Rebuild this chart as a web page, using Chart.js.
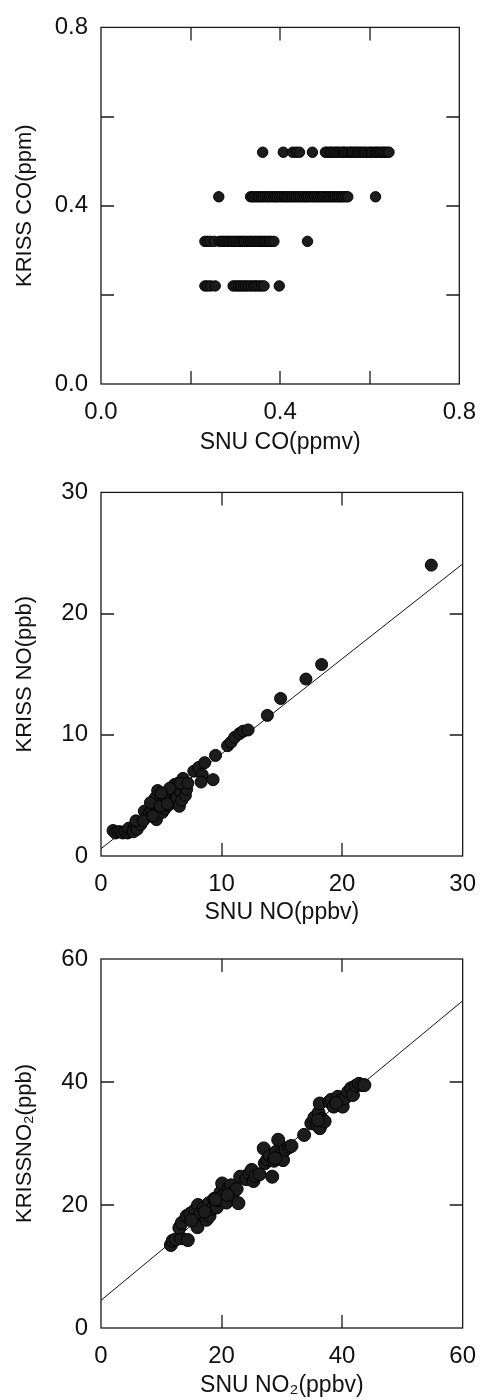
<!DOCTYPE html>
<html>
<head>
<meta charset="utf-8">
<script src="https://cdn.jsdelivr.net/npm/chart.js@4/dist/chart.umd.min.js"></script>
<style>
  body { margin: 0; background: #fff; }
  canvas { display: block; }
</style>
</head>
<body>
<canvas id="coChart" width="490" height="465"></canvas>
<canvas id="noChart" width="490" height="465"></canvas>
<canvas id="no2Chart" width="490" height="470"></canvas>
<script>
// ── DATA ────────────────────────────────────────────────────────────────────
// CO panel: KRISS values are quantised at four levels
const coLevels = [0.52, 0.42, 0.32, 0.22];
const coSnu052 = [0.361, 0.407, 0.428, 0.436, 0.443, 0.472, 0.501, 0.505, 0.511, 0.514,
  0.519, 0.524, 0.528, 0.533, 0.539, 0.542, 0.547, 0.553, 0.558, 0.561, 0.567, 0.572,
  0.576, 0.581, 0.586, 0.590, 0.596, 0.601, 0.605, 0.611, 0.615, 0.619, 0.624, 0.629,
  0.633, 0.638, 0.643];
const coSnu042 = [0.263, 0.334, 0.339, 0.343, 0.349, 0.353, 0.358, 0.362, 0.367, 0.372,
  0.376, 0.381, 0.386, 0.390, 0.394, 0.399, 0.404, 0.409, 0.413, 0.417, 0.422, 0.427,
  0.432, 0.436, 0.441, 0.445, 0.450, 0.455, 0.459, 0.463, 0.468, 0.473, 0.477, 0.482,
  0.486, 0.491, 0.495, 0.500, 0.505, 0.509, 0.514, 0.519, 0.523, 0.528, 0.532, 0.537,
  0.541, 0.546, 0.551, 0.613];
const coSnu032 = [0.232, 0.238, 0.244, 0.253, 0.265, 0.270, 0.274, 0.279, 0.284, 0.288,
  0.293, 0.297, 0.302, 0.307, 0.311, 0.316, 0.320, 0.325, 0.330, 0.334, 0.339, 0.343,
  0.348, 0.352, 0.357, 0.362, 0.366, 0.371, 0.376, 0.380, 0.386, 0.461];
const coSnu022 = [0.232, 0.238, 0.245, 0.255, 0.295, 0.301, 0.307, 0.312, 0.318, 0.323,
  0.329, 0.335, 0.341, 0.346, 0.352, 0.358, 0.364, 0.398];
const coTickLabels = ["0.0", "0.4", "0.8"];

// NO panel
const noSnu = [1.0, 1.2, 1.4, 1.6, 1.8, 2.0, 2.2, 2.4, 2.3, 2.6, 2.8, 2.7, 3.0, 3.1, 3.3, 2.9,
  3.6, 3.8, 4.0, 3.5, 4.2, 4.4, 4.6, 4.5, 4.7, 4.8, 5.0, 5.1, 5.2, 5.3, 5.4, 5.5, 5.6, 5.8,
  5.9, 6.0, 6.1, 6.2, 6.3, 6.4, 6.5, 6.6, 6.7, 6.8, 6.9, 7.0, 7.1, 6.4, 5.7,
  4.1, 4.9, 5.5, 6.6, 7.2, 4.3, 5.0,
  7.7, 8.1, 8.4, 8.6, 8.3, 9.3, 9.5, 10.5, 10.8, 11.1, 11.5, 11.8, 12.2, 13.8, 14.9, 17.0,
  18.3, 27.4];
const noKriss = [2.1, 1.9, 2.0, 2.0, 1.9, 2.0, 1.9, 2.0, 2.3, 2.1, 2.4, 2.0, 2.2, 2.8, 2.6, 2.9,
  3.7, 3.2, 3.5, 2.9, 3.8, 4.3, 3.0, 4.8, 5.4, 4.0, 4.4, 3.6, 4.9, 3.9, 4.6, 5.1, 4.2, 4.7,
  5.3, 4.4, 5.9, 5.1, 4.8, 5.6, 4.1, 5.3, 4.6, 6.4, 5.8, 5.0, 5.5, 6.0, 5.6,
  4.4, 4.1, 4.3, 6.0, 6.0, 3.3, 5.2,
  7.0, 7.3, 6.7, 7.7, 6.1, 6.3, 8.3, 9.1, 9.4, 9.8, 10.1, 10.3, 10.4, 11.6, 13.0, 14.6,
  15.8, 24.0];
const noFitSnu = [0, 30];
const noFitKriss = [0.6, 24.1];
const noTickLabels = ["0", "10", "20", "30"];

// NO2 panel
const no2Snu = [11.6, 11.9, 12.4, 13.3, 13.0, 13.4, 14.4, 14.2, 14.8, 15.3,
  15.6, 16.0, 16.1, 16.5, 17.0, 17.5, 17.9, 18.0, 18.4, 18.8,
  19.2, 19.6, 19.8, 20.1, 20.4, 20.8, 21.2, 21.6, 22.0, 22.5,
  22.8, 23.1, 24.1, 24.6, 25.0, 25.3, 25.6, 27.0, 27.2, 27.6,
  28.0, 28.4, 28.7, 29.0, 29.4, 29.8, 30.2, 30.6, 31.2, 31.6,
  33.7, 34.9, 35.4, 35.8, 36.1, 36.3, 36.3, 36.6, 37.1, 37.9,
  38.2, 38.6, 39.3, 39.7, 40.1, 40.5, 41.0, 41.5, 41.8, 42.3,
  42.8, 43.3, 43.7, 15.0, 17.2, 19.0, 21.0, 26.3, 28.9, 36.0, 39.0];
const no2Kriss = [13.5, 14.2, 14.4, 14.6, 16.3, 17.1, 14.3, 18.2, 18.6, 17.8,
  19.2, 16.4, 20.0, 18.8, 19.5, 17.6, 20.3, 18.2, 19.4, 21.0,
  19.6, 20.8, 22.0, 23.5, 21.6, 20.4, 22.8, 23.2, 22.1, 22.6,
  20.3, 24.6, 24.2, 25.1, 25.7, 23.9, 24.7, 29.2, 26.8, 27.4,
  28.0, 24.6, 27.2, 28.6, 30.6, 28.2, 27.3, 29.0, 29.4, 29.6,
  31.4, 33.3, 34.2, 33.0, 35.0, 32.5, 36.5, 34.0, 33.6, 36.8,
  37.1, 36.0, 37.6, 37.0, 36.0, 37.4, 38.4, 39.0, 37.9, 39.4,
  39.7, 39.5, 39.5, 17.5, 18.9, 20.9, 21.6, 25.0, 27.6, 33.8, 36.6];
const no2FitSnu = [0, 60];
const no2FitKriss = [4.5, 53.2];
const no2TickLabels = ["0", "20", "40", "60"];

// ── HELPERS ─────────────────────────────────────────────────────────────────
const zip = (xs, ys) => xs.map((x, i) => ({ x, y: ys[i] }));
const FONT = "'Liberation Sans', Arial, Helvetica, sans-serif";
const TICK = 13;

Chart.defaults.font.family = FONT;
Chart.defaults.color = "#111";

// frame box + inward ticks on all four sides
const frameTicks = {
  id: "frameTicks",
  afterDatasetsDraw(chart) {
    const { ctx, chartArea: a, scales: { x, y } } = chart;
    ctx.save();
    ctx.strokeStyle = "#1a1a1a";
    ctx.lineWidth = 1.3;
    ctx.strokeRect(a.left, a.top, a.right - a.left, a.bottom - a.top);
    ctx.beginPath();
    x.ticks.forEach(t => {
      if (t.value <= x.min || t.value >= x.max) return;
      const px = Math.round(x.getPixelForValue(t.value));
      ctx.moveTo(px, a.bottom); ctx.lineTo(px, a.bottom - TICK);
      ctx.moveTo(px, a.top);    ctx.lineTo(px, a.top + TICK);
    });
    y.ticks.forEach(t => {
      if (t.value <= y.min || t.value >= y.max) return;
      const py = Math.round(y.getPixelForValue(t.value));
      ctx.moveTo(a.left, py);  ctx.lineTo(a.left + TICK, py);
      ctx.moveTo(a.right, py); ctx.lineTo(a.right - TICK, py);
    });
    ctx.stroke();
    ctx.restore();
  }
};

function makePanel(id, p) {
  const canvas = document.getElementById(id);
  const H = canvas.height;
  const datasets = [];
  if (p.fit) {
    datasets.push({
      type: "line", data: p.fit, borderColor: "#111", borderWidth: 1,
      pointRadius: 0, fill: false, tension: 0, order: 2
    });
  }
  datasets.push({
    data: p.points, pointRadius: p.radius, pointHoverRadius: p.radius,
    pointBackgroundColor: "#1c1c1c", pointBorderColor: "#000", pointBorderWidth: 1,
    order: 1
  });

  const axis = (min, max, step, labels, fmt, title, isX) => ({
    type: "linear", min, max,
    grid: { display: false, drawTicks: false, tickLength: 0 },
    border: { display: false },
    ticks: {
      stepSize: step, autoSkip: false, maxRotation: 0,
      padding: isX ? 14 : 13,
      font: { size: 24 }, color: "#111",
      callback: v => { const s = fmt(v); return labels.includes(s) ? s : ""; }
    },
    title: {
      display: true, text: title, color: "#111", font: { size: isX ? 23 : 22 },
      padding: isX ? { top: 0, bottom: p.xTitlePad } : { top: 12, bottom: 0 }
    },
    afterFit: s => { if (isX) s.height = H - p.bottom; else s.width = 101; }
  });

  return new Chart(canvas, {
    type: "scatter",
    data: { datasets },
    options: {
      responsive: false, animation: false,
      layout: { padding: { top: p.top, right: 490 - p.right, left: 0, bottom: 0 } },
      plugins: { legend: { display: false }, tooltip: { enabled: false } },
      scales: {
        x: axis(0, p.max, p.step, p.labels, p.fmt, p.xTitle, true),
        y: axis(0, p.max, p.step, p.labels, p.fmt, p.yTitle, false)
      }
    },
    plugins: [frameTicks]
  });
}

// ── PANELS ──────────────────────────────────────────────────────────────────
const coPoints = [
  ...coSnu052.map(x => ({ x, y: coLevels[0] })),
  ...coSnu042.map(x => ({ x, y: coLevels[1] })),
  ...coSnu032.map(x => ({ x, y: coLevels[2] })),
  ...coSnu022.map(x => ({ x, y: coLevels[3] }))
];

makePanel("coChart", {
  points: coPoints, max: 0.8, step: 0.2, labels: coTickLabels,
  fmt: v => v.toFixed(1), xTitle: "SNU CO(ppmv)", yTitle: "KRISS CO(ppm)",
  top: 15, right: 467, bottom: 384, xTitlePad: 9, radius: 5.2
});

makePanel("noChart", {
  points: zip(noSnu, noKriss), fit: zip(noFitSnu, noFitKriss),
  max: 30, step: 10, labels: noTickLabels,
  fmt: v => String(Math.round(v)), xTitle: "SNU NO(ppbv)", yTitle: "KRISS NO(ppb)",
  top: 20, right: 465, bottom: 391, xTitlePad: 4, radius: 6
});

makePanel("no2Chart", {
  points: zip(no2Snu, no2Kriss), fit: zip(no2FitSnu, no2FitKriss),
  max: 60, step: 20, labels: no2TickLabels,
  fmt: v => String(Math.round(v)), xTitle: "SNU NO₂(ppbv)", yTitle: "KRISSNO₂(ppb)",
  top: 29, right: 466, bottom: 398, xTitlePad: 1, radius: 6.5
});
</script>
</body>
</html>
